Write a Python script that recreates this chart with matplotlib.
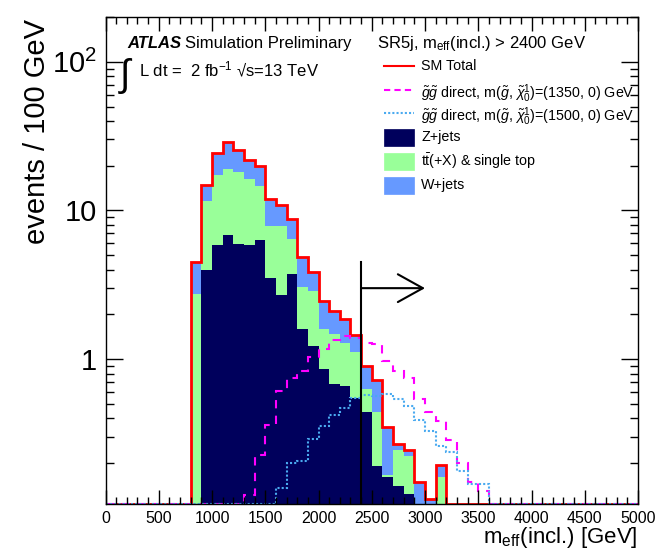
import numpy as np
import matplotlib
matplotlib.use("Agg")
import matplotlib.pyplot as plt
from matplotlib.lines import Line2D
from matplotlib.patches import Rectangle

# bins of 100 GeV, starting at 800 GeV (everything below is empty)
first_bin = 800
bin_width = 100
zjets = [0, 3.97, 5.82, 6.79, 5.91, 5.82, 6.32, 3.53, 2.69, 3.72, 1.59, 1.23, 0.857, 0.68,
         0.66, 0.55, 0.44, 0.192, 0.16, 0.14, 0.124, 0, 0, 0, 0, 0, 0, 0, 0]
ttbar = [2.73, 7.63, 11.58, 12.21, 12.19, 10.48, 8.38, 4.32, 5.16, 2.66, 1.48, 1.64, 0.73, 0.79,
         0.63, 0.56, 0.19, 0.248, 0.005, 0.105, 0.098, 0, 0, 0.161, 0, 0, 0, 0, 0]
wjets = [1.75, 3.3, 7.0, 9.7, 7.3, 5.7, 5.3, 4.15, 2.95, 2.32, 1.82, 0.98, 0.87, 0.64,
         0.56, 0.34, 0.27, 0.28, 0.185, 0.025, 0.023, 0.15, 0.115, 0.033, 0, 0, 0, 0, 0]
sig_1350 = [0, 0, 0, 0, 0, 0.122, 0.227, 0.361, 0.61, 0.745, 0.835, 1.04, 1.17, 1.35,
            1.43, 1.38, 1.28, 1.26, 0.97, 0.835, 0.745, 0.54, 0.44, 0.385, 0.285, 0.2, 0.15, 0.13, 0]
sig_1500 = [0, 0, 0, 0, 0, 0, 0, 0, 0.136, 0.199, 0.205, 0.29, 0.357, 0.42,
            0.469, 0.547, 0.575, 0.567, 0.586, 0.54, 0.48, 0.39, 0.33, 0.26, 0.237, 0.177, 0.145, 0.145, 0]
cut_value = 2400
x_range = (0, 5000)
y_range = (0.106, 200)

col_z = "#00005c"
col_tt = "#99ff99"
col_w = "#6699ff"
col_sm = "#ff0000"
col_s1 = "#ff00ff"
col_s2 = "#4aaaf0"

plt.rcParams["font.family"] = ["Liberation Sans", "DejaVu Sans"]
plt.rcParams["mathtext.fontset"] = "custom"
plt.rcParams["mathtext.rm"] = "Liberation Sans"
plt.rcParams["mathtext.it"] = "Liberation Sans:italic"
plt.rcParams["mathtext.bf"] = "Liberation Sans:bold"


def full_hist(vals):
    n = int((x_range[1] - x_range[0]) / bin_width)
    h = np.zeros(n)
    i0 = int((first_bin - x_range[0]) / bin_width)
    h[i0:i0 + len(vals)] = vals
    return h


edges = np.arange(x_range[0], x_range[1] + 1, bin_width)
z = full_hist(zjets)
tt = full_hist(ttbar)
w = full_hist(wjets)
s1 = full_hist(sig_1350)
s2 = full_hist(sig_1500)

lvl1 = z
lvl2 = z + tt
lvl3 = z + tt + w
floor = 1e-3

W, H = 657, 552
fig = plt.figure(figsize=(W / 100, H / 100), dpi=100)
ax = fig.add_axes([105.5 / W, 1 - 504 / H, (638 - 105.5) / W, (504 - 17) / H])
ax.set_yscale("log")

ax.stairs(np.maximum(lvl3, floor), edges, baseline=np.maximum(lvl2, floor), fill=True, color=col_w, lw=0)
ax.stairs(np.maximum(lvl2, floor), edges, baseline=np.maximum(lvl1, floor), fill=True, color=col_tt, lw=0)
ax.stairs(np.maximum(lvl1, floor), edges, baseline=floor, fill=True, color=col_z, lw=0)

ymin = y_range[0]
ax.stairs(np.maximum(lvl3, ymin), edges, baseline=None, color=col_sm, lw=2)
ax.stairs(np.maximum(s1, ymin), edges, baseline=None, color=col_s1, lw=1.5, linestyle=(0, (4, 3.5)))
ax.stairs(np.maximum(s2, ymin), edges, baseline=None, color=col_s2, lw=1.5, linestyle=(0, (1, 1)))

# cut line and arrow
ax.plot([cut_value, cut_value], [ymin, 4.5], color="black", lw=1.5)
ax.annotate("", xy=(3000, 3.0), xytext=(cut_value, 3.0),
            arrowprops=dict(arrowstyle="->,head_length=1.8,head_width=1.0", color="black",
                            lw=1.5, shrinkA=0, shrinkB=0, mutation_scale=10))

ax.set_xlim(*x_range)
ax.set_ylim(*y_range)

ax.set_xticks(np.arange(0, 5001, 500))
ax.set_xticks(np.arange(0, 5001, 100), minor=True)
ax.set_xticklabels([str(v) for v in range(0, 5001, 500)])
ax.set_yticks([1, 10, 100])
ax.set_yticklabels(["1", "10", "$10^{2}$"])
ax.yaxis.set_minor_locator(matplotlib.ticker.LogLocator(base=10, subs=np.arange(2, 10)))
ax.yaxis.set_minor_formatter(matplotlib.ticker.NullFormatter())

ax.tick_params(axis="both", which="both", direction="in", top=True, right=True, color="black", width=1)
ax.tick_params(axis="x", which="major", length=10, labelsize=11.5, pad=5)
ax.tick_params(axis="x", which="minor", length=5)
ax.tick_params(axis="y", which="major", length=12, labelsize=21, pad=6)
ax.tick_params(axis="y", which="minor", length=6)
for sp in ax.spines.values():
    sp.set_linewidth(1)

fig.text(37 / W, 1 - 19 / H, "events / 100 GeV", rotation=90, ha="center", va="top", fontsize=21)
fig.text(638 / W, 1 - 543 / H, r"m$_{\mathrm{eff}}$(incl.) [GeV]", ha="right", va="baseline", fontsize=16)

fig.text(127 / W, 1 - 48 / H, "ATLAS", fontsize=12, fontweight="bold", fontstyle="italic", va="baseline")
fig.text(185 / W, 1 - 48 / H, "Simulation Preliminary", fontsize=12, va="baseline")
fig.text(377 / W, 1 - 48 / H, r"SR5j, m$_{\mathrm{eff}}$(incl.) > 2400 GeV", fontsize=12, va="baseline")
fig.text(120 / W, 1 - 86 / H, "\u222b", fontsize=27, va="baseline")
fig.text(139 / W, 1 - 76 / H, "L dt =  2 fb$^{-1}$ \u221as=13 TeV", fontsize=12, va="baseline")

# legend, drawn by hand so the rows are evenly spaced like the original
leg_rows = [66, 90, 113, 137, 161, 185]
leg_x0, leg_x1, leg_tx = 384, 414, 421
labels = [
    "SM Total",
    r"$\tilde{g}\tilde{g}$ direct, m($\tilde{g}$, $\tilde{\chi}_{0}^{1}$)=(1350, 0) GeV",
    r"$\tilde{g}\tilde{g}$ direct, m($\tilde{g}$, $\tilde{\chi}_{0}^{1}$)=(1500, 0) GeV",
    "Z+jets",
    r"t$\bar{\mathrm{t}}$(+X) & single top",
    "W+jets",
]
line_styles = [(col_sm, "-"), (col_s1, (0, (3, 2))), (col_s2, (0, (1, 1)))]
box_colors = [col_z, col_tt, col_w]
for i, y in enumerate(leg_rows):
    yf = 1 - y / H
    if i < 3:
        c, ls = line_styles[i]
        fig.add_artist(Line2D([leg_x0 / W, leg_x1 / W], [yf, yf], color=c, lw=1.5, linestyle=ls))
    else:
        c = box_colors[i - 3]
        fig.add_artist(Rectangle((leg_x0 / W, yf - 8.5 / H), (leg_x1 - leg_x0) / W, 17 / H,
                                 facecolor=c, edgecolor=c, lw=0.5))
    fig.text(leg_tx / W, yf, labels[i], fontsize=10.3, va="center_baseline" if i in (1, 2) else "center")

fig.savefig("out.png", dpi=100)
